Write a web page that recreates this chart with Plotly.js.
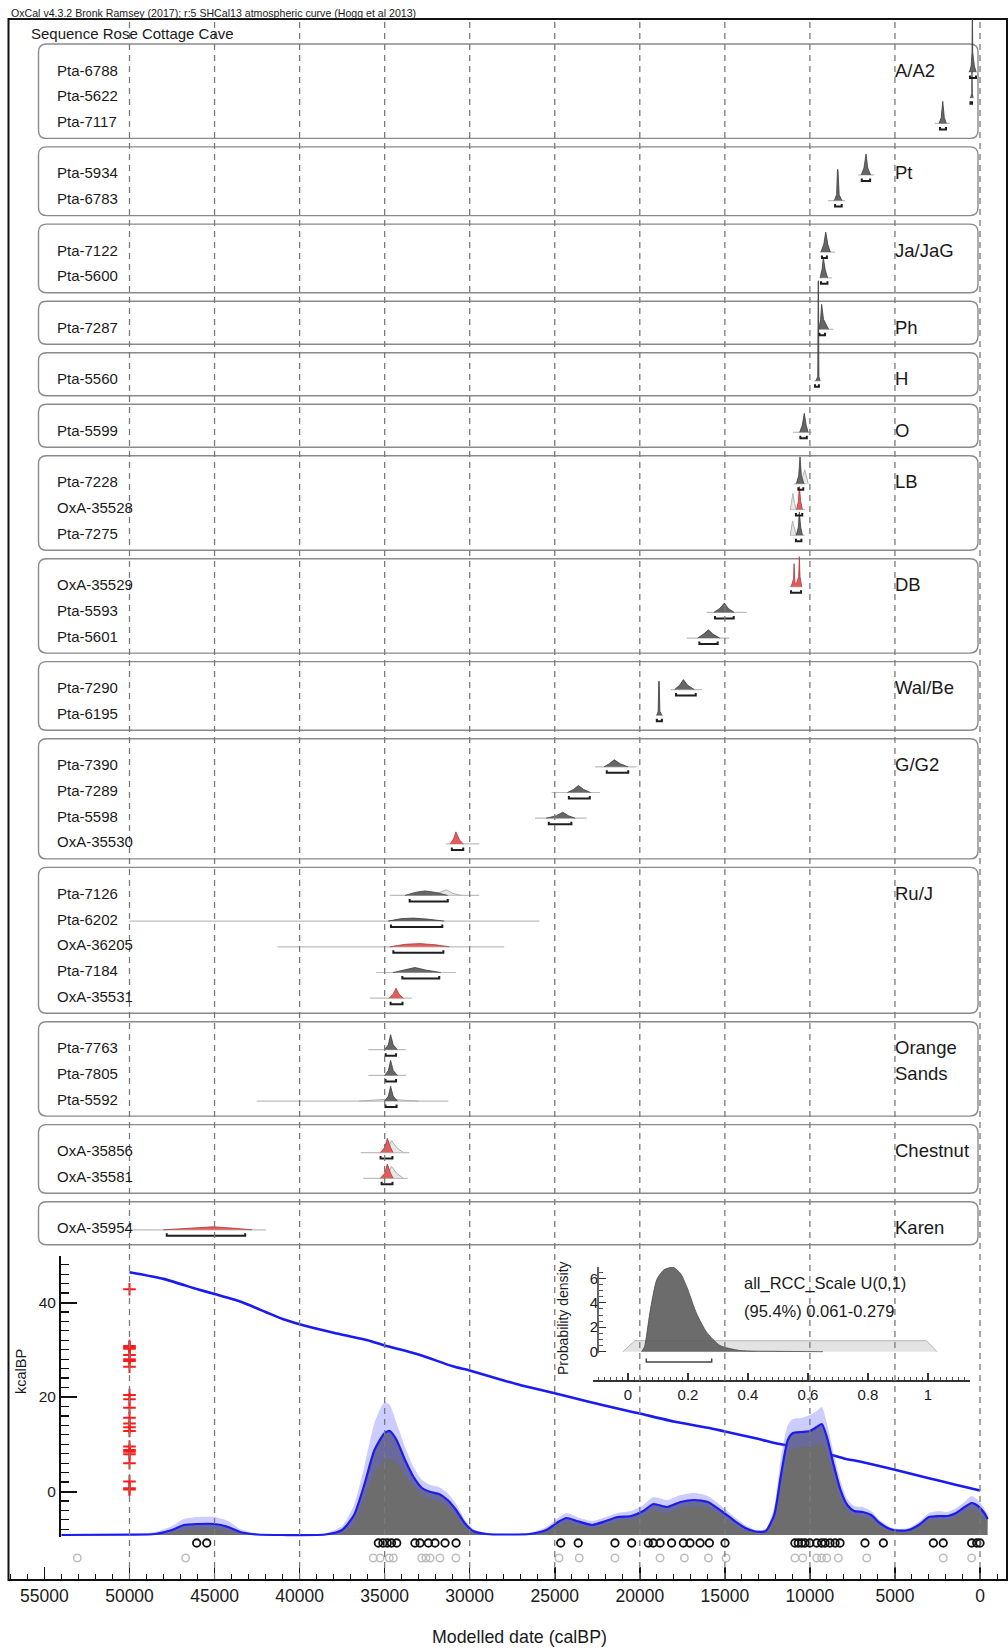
<!DOCTYPE html>
<html><head><meta charset="utf-8">
<script src="https://cdn.plot.ly/plotly-3.0.1.min.js"></script>
<style>body{margin:0;padding:0;background:#fff}#chart{width:1008px;height:1648px}</style>
</head><body><div id="chart"></div>
<script>
// ---------------- DATA ----------------
const headerText = 'OxCal v4.3.2 Bronk Ramsey (2017); r:5 SHCal13 atmospheric curve (Hogg et al 2013)';
const sequenceTitle = 'Sequence Rose Cottage Cave';
const groupLabels = [['A/A2'],['Pt'],['Ja/JaG'],['Ph'],['H'],['O'],['LB'],['DB'],['Wal/Be'],['G/G2'],['Ru/J'],['Orange','Sands'],['Chestnut'],['Karen']];
const groupSizes = [3,2,2,1,1,1,3,3,2,4,5,3,2,1];
const sampleNames = ['Pta-6788','Pta-5622','Pta-7117','Pta-5934','Pta-6783','Pta-7122','Pta-5600','Pta-7287','Pta-5560','Pta-5599',
  'Pta-7228','OxA-35528','Pta-7275','OxA-35529','Pta-5593','Pta-5601','Pta-7290','Pta-6195','Pta-7390','Pta-7289','Pta-5598','OxA-35530',
  'Pta-7126','Pta-6202','OxA-36205','Pta-7184','OxA-35531','Pta-7763','Pta-7805','Pta-5592','OxA-35856','OxA-35581','OxA-35954'];
// posterior outlines: [age calBP, relative height]
const posteriors = [
  [[620,0],[520,6],[470,20],[452,70],[448,70],[430,20],[330,6],[230,0]],
  [[560,0],[480,4],[472,26],[466,26],[455,4],[400,0]],
  [[2400,0],[2280,6],[2190,22],[2100,6],[1980,0]],
  [[6980,0],[6820,7],[6700,21],[6600,7],[6430,0]],
  [[8560,0],[8430,6],[8380,31],[8350,31],[8280,6],[8120,0]],
  [[9350,0],[9180,8],[9070,20],[8950,8],[8800,0]],
  [[9400,0],[9290,8],[9210,20],[9100,8],[8960,0]],
  [[9470,0],[9370,10],[9310,25],[9200,10],[8900,0]],
  [[9650,0],[9540,4],[9512,100],[9498,100],[9470,4],[9400,0]],
  [[10600,0],[10450,7],[10330,19],[10220,7],[10100,0]],
  [[10800,0],[10660,8],[10580,27],[10500,8],[10350,0]],
  [[10780,0],[10680,8],[10620,23],[10540,8],[10440,0]],
  [[10800,0],[10680,8],[10620,23],[10540,8],[10440,0]],
  [[11100,0],[10960,8],[10930,23],[10880,4],[10800,3],[10660,10],[10620,30],[10580,10],[10480,0]],
  [[15650,0],[15300,4],[15030,9.3],[14800,4],[14450,0]],
  [[16600,0],[16250,4],[15970,8.3],[15700,4],[15300,0]],
  [[17950,0],[17650,4.5],[17440,10],[17200,4.5],[16800,0]],
  [[19000,0],[18920,4],[18885,34],[18860,34],[18820,4],[18700,0]],
  [[22100,0],[21800,3],[21500,7],[21150,3],[20700,0]],
  [[24250,0],[23900,3],[23610,7],[23300,3],[22900,0]],
  [[25500,0],[24900,2.5],[24530,6],[24200,2.5],[23800,0]],
  [[31150,0],[30950,5],[30810,12],[30600,4],[30380,0]],
  [[33800,0],[33200,3],[32630,4.5],[32000,3],[31300,0]],
  [[34800,0],[34000,2.5],[33320,3],[32500,2],[31500,0]],
  [[34700,0],[33800,2.5],[32920,3.2],[32000,2],[31200,0]],
  [[34500,0],[33700,3],[33220,5],[32600,2.5],[31700,0]],
  [[34750,0],[34500,4],[34330,10],[34150,4],[33900,0]],
  [[35000,0],[34780,5],[34650,15],[34500,5],[34250,0]],
  [[35000,0],[34780,5],[34650,15],[34500,5],[34250,0]],
  [[35000,0],[34780,5],[34650,14.7],[34500,5],[34250,0]],
  [[35250,0],[35000,5],[34840,14.3],[34650,5],[34500,0]],
  [[35250,0],[35000,5],[34840,14.3],[34650,5],[34500,0]],
  [[48000,0],[46500,1.5],[45070,3],[43800,1.5],[42800,0]]
];
const likelihoodSpans = [[700,150],[620,380],[2650,1760],[7170,6230],[8930,7940],[9400,8520],[9420,8700],[9500,8620],[9760,9400],[11000,9900],
  [10930,10190],[11150,10300],[11150,10300],[11200,10450],[16070,13720],[17240,14740],[18180,16330],[19050,18650],[22630,20180],[25180,22340],[26160,23120],[31390,29440],
  [34690,29440],[50010,25910],[41290,27970],[35510,30810],[35860,33410],[35960,33740],[35960,33740],[42520,31260],[36410,33550],[36250,33650],[50200,41970]];
const likelihoodShapes = [null,null,null,null,null,null,null,null,null,null,
  [[10650,0],[10450,6],[10300,14],[10200,5],[10100,0]],
  [[11150,0],[11000,16],[10900,6],[10800,0]],
  [[11150,0],[11020,14],[10900,6],[10800,0]],
  null,null,null,null,null,null,null,null,null,
  [[32300,0],[31700,3],[31350,5.5],[31000,2],[30500,0]],
  null,null,null,null,null,null,
  [[36500,0],[35500,1],[34700,2],[34000,1],[33000,0]],
  [[34900,0],[34600,12],[34300,5],[33900,0]],
  [[34900,0],[34600,12],[34300,5],[33900,0]],
  null];
const ranges95 = [[590,235],[560,470],[2350,2000],[6950,6460],[8520,8130],[9290,9000],[9350,8970],[9440,9110],[9700,9470],[10560,10180],
  [10680,10390],[10820,10450],[10820,10500],[11110,10520],[15580,14480],[16500,15420],[17870,16710],[19000,18700],[21940,20680],[24170,22940],[25350,24020],[31050,30380],
  [33530,31290],[34630,31610],[34490,31550],[33960,31790],[34650,33950],[34940,34330],[34950,34330],[34950,34300],[35240,34540],[35180,34540],[47810,43200]];

// age model (kcalBP) and red markers
const modelAge = [50000,48000,46000,45000,43500,42000,41000,40000,38000,36000,35000,33000,31000,30000,28000,27000,25000,23000,21000,20000,18000,16000,15000,13000,12000,10000,9000,8000,7000,5000,3000,1500,0];
const modelKcal = [46.4,45.0,42.8,41.8,40.2,38.0,36.5,35.4,33.6,32.0,30.9,29.0,26.5,25.6,23.5,22.5,20.8,19.0,17.3,16.5,14.8,13.5,12.7,11.1,10.2,8.8,8.0,7.0,6.3,4.6,2.8,1.5,0.2];
const crossAge = 50000;
const crossKcal = [42.8,30.8,30.5,30.2,28.9,28.0,27.6,26.4,20.4,19.5,17.7,15.6,14.4,13.6,12.8,9.5,8.8,8.4,7.9,6.0,2.1,0.7,0.4];

// summed density (relative units)
const densAge = [54000,50000,48500,47500,46800,46000,45000,44200,43500,42500,41000,38500,37500,36800,36200,35600,35000,34700,34300,33800,33300,32800,32300,31800,31300,30800,30300,29800,29000,27500,26500,25500,24800,24300,23700,22800,22000,21300,20500,19800,19200,18400,17600,16800,16000,15200,14500,13800,13200,12600,12100,11700,11300,11000,10500,10000,9600,9300,9000,8600,8200,7800,7400,6900,6400,5900,5300,4800,4200,3600,3000,2400,1900,1400,900,500,200,-250,-450];
const densMean = [0,0.3,1,5,10,11,11,8,3,0.5,0,0.5,5,20,50,85,102,104,95,75,58,47,43,41,35,25,12,4,1,0.5,1,5,13,17,14,10,14,18,19,24,31,28,33,35,33,24,15,7,3.5,4,20,60,95,102,103,104,108,111,98,70,45,30,24,23,20,12,6,4.5,5,10,18,19,19,22,28,32,30,22,16];
const densHigh = [0.5,1,3,9,16,18,18,14,6,1.5,0.5,1.5,9,30,68,112,133,130,112,88,68,55,50,48,42,31,16,6,2,1,2,8,17,22,18,14,18,22,24,30,38,35,40,42,39,29,19,10,5,6,28,78,110,116,117,120,124,128,112,82,54,36,29,28,24,15,8,6,7,13,22,24,23,27,33,39,36,27,20];
const densLow = [0,0,0,2,5,6,6,4,1,0,0,0,2,12,35,62,75,76,72,60,48,40,36,34,28,19,8,2,0,0,0,3,9,12,10,7,10,14,15,19,25,22,27,29,27,19,11,4,2,2,12,45,78,86,88,88,90,92,82,58,36,24,19,18,16,9,4,3,3,7,14,15,15,18,23,26,24,17,12];
const blackCircleAge = [46050,45460,35370,35100,34850,34600,34290,33220,32920,32430,32040,31450,30800,24650,23620,21460,20480,19500,19210,18810,18130,17440,17050,16460,15910,14990,10880,10680,10480,10290,10000,9600,9310,9110,8820,8520,8230,6760,5680,2740,2160,490,190,0];
const grayCircleAge = [53070,46700,35670,35270,34730,34490,32820,32570,32330,31750,30810,24750,23560,21460,18810,17380,15970,14930,10880,10420,9600,9310,9010,8330,6660,2160,490];

// inset: all_RCC_Scale
const insetTitle = 'all_RCC_Scale U(0,1)';
const insetRangeText = '(95.4%) 0.061-0.279';
const priorX = [-0.017,0.023,0.995,1.03];
const priorY = [0,0.9,0.9,0];
const scaleX = [0.045,0.055,0.073,0.096,0.12,0.15,0.175,0.196,0.229,0.262,0.307,0.373,0.5,0.65];
const scaleY = [0,0.4,3.2,5.9,6.7,6.9,6.4,5.3,3.1,1.6,0.5,0.1,0.03,0];
const scaleRange = [0.061,0.279];
const gridTicks = [50000,45000,40000,35000,30000,25000,20000,15000,10000,5000,0];

// ---------------- LAYOUT HELPERS ----------------
const W = 1008, H = 1648;
const px = v => v / W;            // horizontal pixel -> paper
const py = v => 1 - v / H;        // vertical pixel -> paper
const FONT = 'Liberation Sans, Arial, sans-serif';
const SEQ_TOP = 44, FIRST = 26, ROW = 25.7, BOT = 17, GAP = 8.5;

const rowY = [], boxes = [], groupFirstRow = [];
let curTop = SEQ_TOP;
groupSizes.forEach(n => {
  const h = FIRST + BOT + (n - 1) * ROW;
  boxes.push([curTop, curTop + h]);
  groupFirstRow.push(rowY.length);
  for (let k = 0; k < n; k++) rowY.push(curTop + FIRST + k * ROW);
  curTop += h + GAP;
});

const traces = [];
// likelihood spans
const spX = [], spY = [];
likelihoodSpans.forEach((s, i) => { spX.push(s[0], s[1], null); spY.push(rowY[i] + 2, rowY[i] + 2, null); });
traces.push({x: spX, y: spY, xaxis: 'x', yaxis: 'y2', mode: 'lines', line: {color: '#bdbdbd', width: 1.2}, hoverinfo: 'skip'});
// likelihood shapes
const lkX = [], lkY = [];
likelihoodShapes.forEach((s, i) => { if (!s) return; s.forEach(p => { lkX.push(p[0]); lkY.push(rowY[i] + 2 - p[1]); }); lkX.push(null); lkY.push(null); });
traces.push({x: lkX, y: lkY, xaxis: 'x', yaxis: 'y2', mode: 'lines', fill: 'toself', fillcolor: 'rgba(215,215,215,0.6)', line: {color: '#b0b0b0', width: 1}, hoverinfo: 'skip'});
// posteriors
const gX = [], gY = [], rX = [], rY = [];
posteriors.forEach((s, i) => {
  const red = sampleNames[i].startsWith('OxA');
  const X = red ? rX : gX, Y = red ? rY : gY;
  s.forEach(p => { X.push(p[0]); Y.push(rowY[i] + 2 - p[1]); });
  X.push(null); Y.push(null);
});
traces.push({x: gX, y: gY, xaxis: 'x', yaxis: 'y2', mode: 'lines', fill: 'toself', fillcolor: '#666666', line: {color: '#3c3c3c', width: 0.8}, hoverinfo: 'skip'});
traces.push({x: rX, y: rY, xaxis: 'x', yaxis: 'y2', mode: 'lines', fill: 'toself', fillcolor: '#e25c5c', line: {color: '#a83a3a', width: 0.8}, hoverinfo: 'skip'});
// brackets
const bX = [], bY = [];
ranges95.forEach((r, i) => { const yb = rowY[i] + 8; bX.push(r[0], r[0], r[1], r[1], null); bY.push(yb - 2.5, yb, yb, yb - 2.5, null); });
traces.push({x: bX, y: bY, xaxis: 'x', yaxis: 'y2', mode: 'lines', line: {color: '#1e1e1e', width: 2}, hoverinfo: 'skip'});

// density
traces.push({x: densAge, y: densMean, xaxis: 'x', yaxis: 'y3', mode: 'lines', fill: 'tozeroy', fillcolor: '#6d6d6d', line: {width: 0, shape: 'spline', smoothing: 0.6}, hoverinfo: 'skip'});
traces.push({x: densAge, y: densLow, xaxis: 'x', yaxis: 'y3', mode: 'lines', line: {width: 0, color: 'rgba(0,0,0,0)', shape: 'spline', smoothing: 0.6}, hoverinfo: 'skip'});
traces.push({x: densAge, y: densHigh, xaxis: 'x', yaxis: 'y3', mode: 'lines', fill: 'tonexty', fillcolor: 'rgba(95,95,255,0.32)', line: {width: 0, color: 'rgba(0,0,0,0)', shape: 'spline', smoothing: 0.6}, hoverinfo: 'skip'});
traces.push({x: densAge, y: densMean, xaxis: 'x', yaxis: 'y3', mode: 'lines', line: {color: '#1c1cf0', width: 2.2, shape: 'spline', smoothing: 0.6}, hoverinfo: 'skip'});
traces.push({x: blackCircleAge, y: blackCircleAge.map(() => -8), xaxis: 'x', yaxis: 'y3', mode: 'markers', cliponaxis: false,
  marker: {symbol: 'circle-open', size: 7.5, color: '#111', line: {width: 1.8, color: '#111'}}, hoverinfo: 'skip'});
traces.push({x: grayCircleAge, y: grayCircleAge.map(() => -23), xaxis: 'x', yaxis: 'y3', mode: 'markers', cliponaxis: false,
  marker: {symbol: 'circle-open', size: 7.5, color: '#bdbdbd', line: {width: 1.5, color: '#bdbdbd'}}, hoverinfo: 'skip'});

// age model + crosses
traces.push({x: modelAge, y: modelKcal, xaxis: 'x', yaxis: 'y', mode: 'lines', line: {color: '#1a1af2', width: 2.6, shape: 'spline', smoothing: 0.5}, hoverinfo: 'skip'});
traces.push({x: crossKcal.map(() => crossAge), y: crossKcal, xaxis: 'x', yaxis: 'y', mode: 'markers', cliponaxis: false,
  marker: {symbol: 'cross-thin', size: 9, line: {width: 2, color: '#ff1a1a'}, color: '#ff1a1a'}, hoverinfo: 'skip'});

// inset
traces.push({x: priorX, y: priorY, xaxis: 'x2', yaxis: 'y4', mode: 'lines', fill: 'toself', fillcolor: 'rgba(222,222,222,0.85)', line: {color: '#b5b5b5', width: 1}, hoverinfo: 'skip'});
traces.push({x: scaleX, y: scaleY, xaxis: 'x2', yaxis: 'y4', mode: 'lines', fill: 'toself', fillcolor: 'rgba(95,95,95,0.92)', line: {color: '#4a4a4a', width: 0.8, shape: 'spline', smoothing: 0.6}, hoverinfo: 'skip'});
traces.push({x: [scaleRange[0], scaleRange[0], scaleRange[1], scaleRange[1]], y: [-0.55, -0.85, -0.85, -0.55], xaxis: 'x2', yaxis: 'y4', mode: 'lines', line: {color: '#444', width: 1.5}, hoverinfo: 'skip'});

// ---------------- SHAPES ----------------
const shapes = [];
// frame
shapes.push({type: 'rect', xref: 'paper', yref: 'paper', x0: px(8.5), x1: px(1007), y0: py(1580), y1: py(19), line: {color: '#111', width: 2}, layer: 'below'});
// rounded group boxes
const bx0 = px(38.5), bx1 = px(978), rx = px(8), r = 8;
boxes.forEach(b => {
  const t = b[0], bt = b[1];
  shapes.push({type: 'path', xref: 'paper', yref: 'y2', layer: 'below', line: {color: '#8a8a8a', width: 1.4},
    path: `M ${bx0 + rx},${t} L ${bx1 - rx},${t} Q ${bx1},${t} ${bx1},${t + r} L ${bx1},${bt - r} Q ${bx1},${bt} ${bx1 - rx},${bt} L ${bx0 + rx},${bt} Q ${bx0},${bt} ${bx0},${bt - r} L ${bx0},${t + r} Q ${bx0},${t} ${bx0 + rx},${t} Z`});
});
// dashed grid
gridTicks.forEach(t => shapes.push({type: 'line', xref: 'x', yref: 'paper', x0: t, x1: t, y0: py(1579), y1: py(20), layer: 'above', line: {color: '#7a7a7a', width: 1.3, dash: '6px,5px'}}));
// inset y axis line
shapes.push({type: 'line', xref: 'paper', yref: 'y4', x0: px(598), x1: px(598), y0: -0.13, y1: 6.95, line: {color: '#333', width: 1.5}});

// ---------------- ANNOTATIONS ----------------
const ann = [];
const baseFont = {family: FONT, color: '#1a1a1a'};
ann.push({text: '<u>' + headerText + '</u>', xref: 'paper', yref: 'paper', x: px(8.5), y: py(13), xanchor: 'left', yanchor: 'middle', showarrow: false, font: Object.assign({}, baseFont, {size: 10.6})});
ann.push({text: sequenceTitle, xref: 'paper', yref: 'y2', x: px(28.5), y: 33, xanchor: 'left', yanchor: 'middle', showarrow: false, font: Object.assign({}, baseFont, {size: 15})});
sampleNames.forEach((n, i) => ann.push({text: n, xref: 'paper', yref: 'y2', x: px(54.5), y: rowY[i], xanchor: 'left', yanchor: 'middle', showarrow: false, font: Object.assign({}, baseFont, {size: 15})}));
groupLabels.forEach((lines, g) => lines.forEach((l, k) => ann.push({text: l, xref: 'paper', yref: 'y2', x: px(893), y: rowY[groupFirstRow[g] + k], xanchor: 'left', yanchor: 'middle', showarrow: false, font: Object.assign({}, baseFont, {size: 18.5})})));
ann.push({text: insetTitle, xref: 'paper', yref: 'paper', x: px(742), y: py(1283), xanchor: 'left', yanchor: 'middle', showarrow: false, font: Object.assign({}, baseFont, {size: 16.5})});
ann.push({text: insetRangeText, xref: 'paper', yref: 'paper', x: px(742), y: py(1311), xanchor: 'left', yanchor: 'middle', showarrow: false, font: Object.assign({}, baseFont, {size: 16.5})});
ann.push({text: 'Probability density', xref: 'paper', yref: 'paper', x: px(563), y: py(1318), textangle: -90, xanchor: 'center', yanchor: 'middle', showarrow: false, font: Object.assign({}, baseFont, {size: 14})});
ann.push({text: 'kcalBP', xref: 'paper', yref: 'paper', x: px(21), y: py(1372), textangle: -90, xanchor: 'center', yanchor: 'middle', showarrow: false, font: Object.assign({}, baseFont, {size: 14.5})});
ann.push({text: 'Modelled date (calBP)', xref: 'paper', yref: 'paper', x: px(519), y: py(1637), xanchor: 'center', yanchor: 'middle', showarrow: false, font: Object.assign({}, baseFont, {size: 17.8})});

// ---------------- AXES ----------------
const tickFont = {family: FONT, size: 17.5, color: '#1a1a1a'};
const layout = {
  width: W, height: H, margin: {l: 0, r: 0, t: 0, b: 0},
  paper_bgcolor: '#fff', plot_bgcolor: 'rgba(0,0,0,0)', showlegend: false,
  font: {family: FONT},
  xaxis: {domain: [px(8.5), px(1007)], range: [(980 - 8.5) / 0.01701, (980 - 1007) / 0.01701], anchor: 'free', position: py(1580),
    showline: true, linecolor: '#111', linewidth: 2, ticks: 'inside', ticklen: 12, tickwidth: 1.5, tickcolor: '#111',
    tick0: 0, dtick: 5000, tickformat: 'd', showgrid: false, zeroline: false, tickfont: tickFont,
    minor: {dtick: 1000, ticks: 'inside', ticklen: 5, tickwidth: 1, tickcolor: '#111', showgrid: false}},
  yaxis: {domain: [py(1537), py(1256)], range: [(1491.5 - 1537) / 4.725, (1491.5 - 1256) / 4.725], anchor: 'free', position: px(60), side: 'left',
    showline: true, linecolor: '#111', linewidth: 2, ticks: 'inside', ticklen: 16, tickwidth: 2, tickcolor: '#111',
    tickvals: [0, 20, 40], showgrid: false, zeroline: false, tickfont: {family: FONT, size: 15.5, color: '#1a1a1a'},
    minor: {dtick: 2, ticks: 'inside', ticklen: 8, tickwidth: 1.2, tickcolor: '#111', showgrid: false}},
  yaxis2: {domain: [py(1256), py(19)], range: [1256, 19], anchor: 'x', visible: false},
  yaxis3: {domain: [py(1580), py(1256)], range: [-45, 279], anchor: 'x', visible: false},
  xaxis2: {domain: [px(593), px(970)], range: [(593 - 628) / 300, (970 - 628) / 300], anchor: 'free', position: py(1380),
    showline: true, linecolor: '#333', linewidth: 1.5, ticks: 'inside', ticklen: 7, tickwidth: 1.3, tickcolor: '#333',
    tick0: 0, dtick: 0.2, showgrid: false, zeroline: false, tickfont: {family: FONT, size: 15, color: '#1a1a1a'},
    minor: {dtick: 0.02, ticks: 'inside', ticklen: 3.5, tickwidth: 1, tickcolor: '#555', showgrid: false}},
  yaxis4: {domain: [py(1380), py(1266.7)], range: [(1351.7 - 1380) / 12.23, (1351.7 - 1266.7) / 12.23], anchor: 'free', position: px(598), side: 'left',
    showline: false, ticks: 'inside', ticklen: 7, tickwidth: 1.3, tickcolor: '#333', tickvals: [0, 2, 4, 6],
    showgrid: false, zeroline: false, tickfont: {family: FONT, size: 15, color: '#1a1a1a'},
    minor: {tickvals: [0.5,1,1.5,2.5,3,3.5,4.5,5,5.5,6.5], ticks: 'inside', ticklen: 3.5, tickwidth: 1, tickcolor: '#555', showgrid: false}},
  shapes: shapes, annotations: ann
};
Plotly.newPlot('chart', traces, layout, {displayModeBar: false, staticPlot: true});
</script></body></html>
